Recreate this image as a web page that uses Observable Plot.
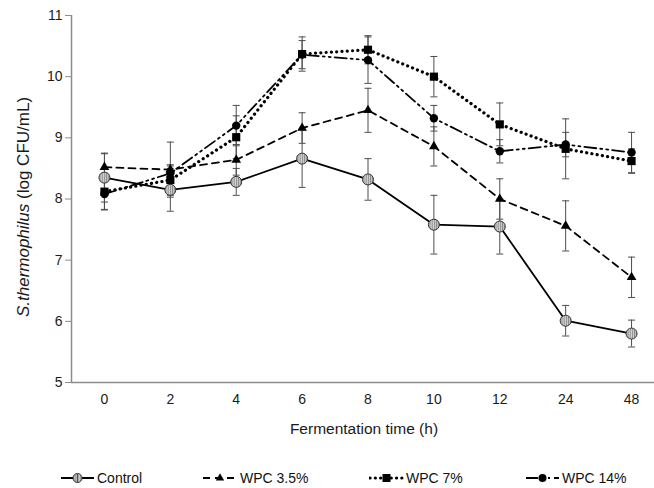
<!DOCTYPE html>
<html>
<head>
<meta charset="utf-8">
<script src="https://cdn.jsdelivr.net/npm/d3@7"></script>
<script src="https://cdn.jsdelivr.net/npm/@observablehq/plot@0.6"></script>
<style>
  html, body { margin: 0; padding: 0; background: #fff; }
  #wrap { width: 654px; font-family: "Liberation Sans", Arial, sans-serif; }
  #legend { position: relative; width: 654px; height: 28px; font-size: 14px; color: #111; }
  .item { position: absolute; top: 8px; height: 20px; display: flex; align-items: center; white-space: nowrap; }
  .item svg { display: block; }
</style>
</head>
<body>
<div id="wrap"></div>
<script>
// ---- data ----
const times = ["0", "2", "4", "6", "8", "10", "12", "24", "48"];
const seriesNames = ["Control", "WPC 3.5%", "WPC 7%", "WPC 14%"];
const control    = [8.35, 8.15, 8.28, 8.66, 8.32, 7.58, 7.55, 6.01, 5.80];
const controlErr = [0.40, 0.35, 0.22, 0.47, 0.34, 0.48, 0.45, 0.25, 0.22];
const wpc35      = [8.52, 8.48, 8.64, 9.16, 9.45, 8.86, 8.00, 7.56, 6.72];
const wpc35Err   = [0.22, 0.45, 0.25, 0.25, 0.36, 0.32, 0.33, 0.41, 0.33];
const wpc7       = [8.12, 8.31, 9.01, 10.37, 10.44, 10.00, 9.22, 8.82, 8.62];
const wpc7Err    = [0.30, 0.25, 0.35, 0.28, 0.23, 0.33, 0.35, 0.49, 0.20];
const wpc14      = [8.08, 8.42, 9.20, 10.36, 10.27, 9.32, 8.78, 8.89, 8.76];
const wpc14Err   = [0.25, 0.12, 0.33, 0.23, 0.38, 0.21, 0.19, 0.20, 0.33];
const yTicks = [5, 6, 7, 8, 9, 10, 11];

const values = [control, wpc35, wpc7, wpc14];
const errs = [controlErr, wpc35Err, wpc7Err, wpc14Err];
const rows = [];
seriesNames.forEach((s, k) => values[k].forEach((v, i) => rows.push({s, i, v, e: errs[k][i]})));
const bySeries = s => rows.filter(d => d.s === s);

const capSymbol = {draw(ctx, size) { const r = Math.sqrt(size / Math.PI); ctx.moveTo(-r, 0); ctx.lineTo(r, 0); }};
const lineStyles = {
  "Control":  {strokeWidth: 1.8},
  "WPC 3.5%": {strokeWidth: 1.8, strokeDasharray: "7,5"},
  "WPC 7%":   {strokeWidth: 3.2, strokeDasharray: "0.1,5.2", strokeLinecap: "round"},
  "WPC 14%":  {strokeWidth: 1.8, strokeDasharray: "12,4,2,4,2,4"}
};
const errColor = "#4d4d4d";
const axisColor = "#8c8c8c";

const chart = Plot.plot({
  width: 654,
  height: 460,
  marginTop: 15,
  marginBottom: 78,
  marginLeft: 71,
  marginRight: 0,
  style: {fontFamily: "'Liberation Sans', Arial, sans-serif", fontSize: "14px", color: "#1a1a1a", background: "#fff"},
  x: {domain: [-0.5, 8.5], range: [71, 664]},
  y: {domain: [5, 11]},
  marks: [
    Plot.axisY({ticks: yTicks, tickFormat: d3.format("d"), tickSize: 6, tickPadding: 3, stroke: axisColor, fontSize: 14, label: null}),
    Plot.axisX({ticks: d3.range(times.length), tickFormat: i => times[i], tickSize: 0, tickPadding: 12, fontSize: 14, label: null}),
    Plot.ruleY([5], {stroke: axisColor, strokeWidth: 1.5}),
    Plot.ruleX([-0.5], {y1: 5, y2: 11, stroke: axisColor, strokeWidth: 1.5}),
    // error bars
    Plot.ruleX(rows, {x: "i", y1: d => d.v - d.e, y2: d => d.v + d.e, stroke: errColor, strokeWidth: 1}),
    Plot.dot(rows, {x: "i", y: d => d.v + d.e, symbol: capSymbol, r: 3.5, stroke: errColor, strokeWidth: 1, fill: "none"}),
    Plot.dot(rows, {x: "i", y: d => d.v - d.e, symbol: capSymbol, r: 3.5, stroke: errColor, strokeWidth: 1, fill: "none"}),
    // lines
    ...seriesNames.map(s => Plot.line(bySeries(s), {x: "i", y: "v", stroke: "#000", ...lineStyles[s]})),
    // markers
    Plot.dot(bySeries("WPC 3.5%"), {x: "i", y: "v", symbol: "triangle", r: 3.6, fill: "#000"}),
    Plot.dot(bySeries("WPC 7%"), {x: "i", y: "v", symbol: "square", r: 4.6, fill: "#000"}),
    Plot.dot(bySeries("WPC 14%"), {x: "i", y: "v", symbol: "circle", r: 4.2, fill: "#000"}),
    Plot.dot(bySeries("Control"), {x: "i", y: "v", symbol: "circle", r: 5.5, fill: "url(#stripes)", stroke: "#333", strokeWidth: 1})
  ]
});

// stripe pattern for Control markers
const svg = d3.select(chart);
const pat = svg.insert("defs", ":first-child").append("pattern")
  .attr("id", "stripes").attr("patternUnits", "userSpaceOnUse").attr("width", 2.2).attr("height", 4);
pat.append("rect").attr("width", 2.2).attr("height", 4).attr("fill", "#d0d0d0");
pat.append("rect").attr("width", 1).attr("height", 4).attr("fill", "#8a8a8a");

// axis titles
svg.append("text").attr("x", 364).attr("y", 429).attr("text-anchor", "middle").attr("dy", "0.35em")
  .attr("font-size", 15.5).attr("fill", "#1a1a1a").text("Fermentation time (h)");
const yl = svg.append("text").attr("transform", "translate(23,207) rotate(-90)").attr("text-anchor", "middle")
  .attr("dy", "0.35em").attr("font-size", 17).attr("fill", "#1a1a1a");
yl.append("tspan").attr("font-style", "italic").text("S.thermophilus");
yl.append("tspan").text(" (log CFU/mL)");

const wrap = document.getElementById("wrap");
wrap.appendChild(chart);

// legend
const legend = d3.select(wrap).append("div").attr("id", "legend");
const legendItems = [
  {name: "Control", left: 60, w: 37},
  {name: "WPC 3.5%", left: 202, w: 38},
  {name: "WPC 7%", left: 369, w: 37},
  {name: "WPC 14%", left: 525, w: 37}
];
legendItems.forEach(it => {
  const div = legend.append("div").attr("class", "item").style("left", it.left + "px");
  const s = div.append("svg").attr("width", it.w).attr("height", 20);
  const st = lineStyles[it.name];
  const ln = s.append("line").attr("x1", 1).attr("x2", it.w - 3).attr("y1", 10).attr("y2", 10)
    .attr("stroke", "#000").attr("stroke-width", st.strokeWidth);
  if (st.strokeDasharray) ln.attr("stroke-dasharray", st.strokeDasharray);
  if (st.strokeLinecap) ln.attr("stroke-linecap", st.strokeLinecap);
  const cx = (it.w - 2) / 2;
  if (it.name === "Control") {
    s.append("circle").attr("cx", cx).attr("cy", 10).attr("r", 4.5).attr("fill", "url(#stripes)").attr("stroke", "#333");
    s.append("line").attr("x1", cx).attr("x2", cx).attr("y1", 6).attr("y2", 14).attr("stroke", "#555");
  } else if (it.name === "WPC 3.5%") {
    s.append("path").attr("d", d3.symbol(d3.symbolTriangle, 30)()).attr("transform", `translate(${cx},10)`).attr("fill", "#000");
  } else if (it.name === "WPC 7%") {
    s.append("rect").attr("x", cx - 4).attr("y", 6).attr("width", 8).attr("height", 8).attr("fill", "#000");
  } else {
    s.append("circle").attr("cx", cx).attr("cy", 10).attr("r", 4).attr("fill", "#000");
  }
  div.append("span").text(it.name);
});
</script>
</body>
</html>
